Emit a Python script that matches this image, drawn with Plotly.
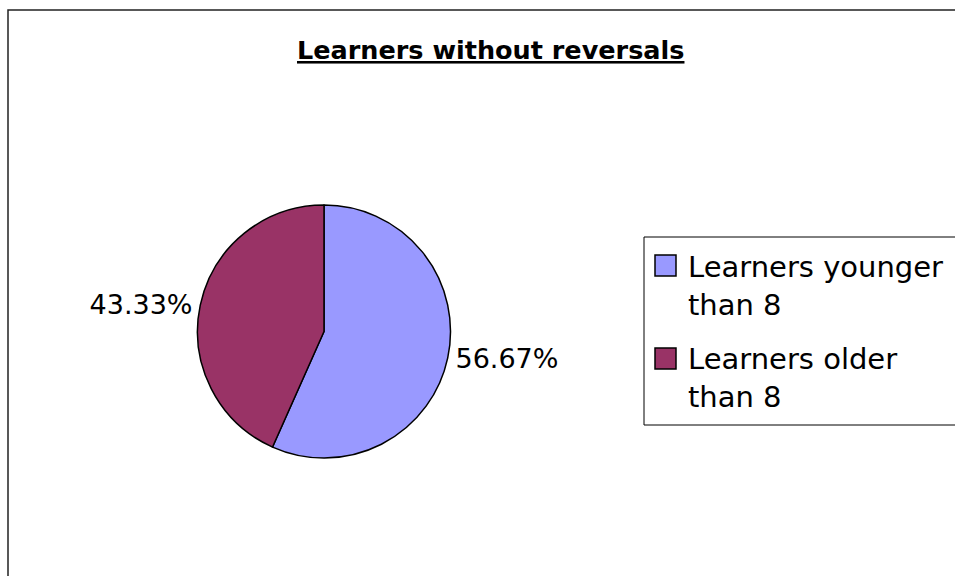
import plotly.graph_objects as go

# Chart data
title_text = "Learners without reversals"
categories = ["Learners younger than 8", "Learners older than 8"]
legend_labels = ["Learners younger<br>than 8", "Learners older<br>than 8"]
learner_counts = [17, 13]
slice_colors = ["#9999FF", "#993366"]

W, H = 955, 576
FONT = "DejaVu Sans"


def px(x):
    return x / W


def py(y):
    return 1 - y / H


# Pie geometry in pixels
cx, cy, r = 324, 331.5, 126.5

fig = go.Figure()
fig.add_trace(go.Pie(
    labels=categories,
    values=learner_counts,
    sort=False,
    direction="clockwise",
    rotation=0,
    marker=dict(colors=slice_colors, line=dict(color="black", width=1.5)),
    textinfo="percent",
    texttemplate="%{percent:.2%}",
    textposition="outside",
    textfont=dict(family=FONT, size=27, color="black"),
    domain=dict(x=[px(cx - r), px(cx + r)], y=[py(cy + r), py(cy - r)]),
    showlegend=False,
    hoverinfo="label+value+percent",
))

shapes = [
    # outer chart frame
    dict(type="rect", xref="paper", yref="paper",
         x0=px(8), x1=px(1000), y0=py(10), y1=py(620),
         line=dict(color="#222222", width=1.5), fillcolor="rgba(0,0,0,0)"),
    # legend frame
    dict(type="rect", xref="paper", yref="paper",
         x0=px(644), x1=px(956), y0=py(237), y1=py(425),
         line=dict(color="black", width=1), fillcolor="white"),
]
annotations = [
    dict(text="<b><u>" + title_text + "</u></b>", x=px(490), y=py(50),
         xref="paper", yref="paper", xanchor="center", yanchor="middle",
         showarrow=False, font=dict(family=FONT, size=25.5, color="black")),
]

# Legend entries
square_tops = [255, 348]
text_tops = [248, 340]
for i, lab in enumerate(legend_labels):
    t = square_tops[i]
    shapes.append(dict(type="rect", xref="paper", yref="paper",
                       x0=px(655), x1=px(676), y0=py(t), y1=py(t + 21),
                       line=dict(color="black", width=1.5),
                       fillcolor=slice_colors[i]))
    annotations.append(dict(text=lab, x=px(686), y=py(text_tops[i]),
                            xref="paper", yref="paper",
                            xanchor="left", yanchor="top", align="left",
                            showarrow=False,
                            font=dict(family=FONT, size=29, color="black")))

fig.update_layout(
    width=W, height=H,
    margin=dict(l=0, r=0, t=0, b=0),
    paper_bgcolor="white",
    plot_bgcolor="white",
    shapes=shapes,
    annotations=annotations,
)

fig.write_html("out.html")
